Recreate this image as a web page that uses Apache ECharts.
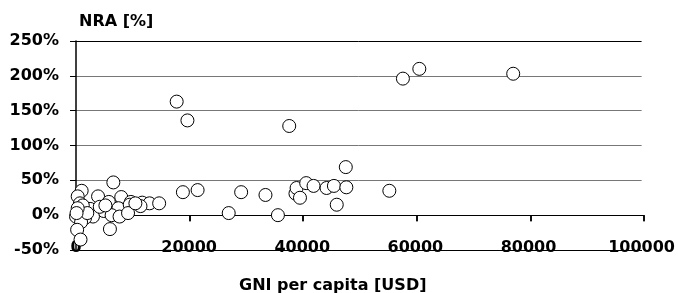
<!DOCTYPE html>
<html>
<head>
<meta charset="utf-8">
<script src="https://cdn.jsdelivr.net/npm/echarts@6/dist/echarts.min.js"></script>
<style>
html, body {margin: 0; padding: 0; background: #fff;}
#main {width: 678px; height: 293px;}
</style>
</head>
<body>
<div id="main"></div>
<script>
// GNI per capita (USD) and NRA (%)
var gni = [
    6600, 1000, 300, 3900, 8000, 700, 5800, 9700, 11700, 13000, 14700,
    7500, 9500, 11400, 2500, 600, 4900, 3000, 1600, 0, 900, 6300, 7700,
    9200, 200, 800, 6000, 4200, 1200, 2000, 300, 10500, 5200, 100,
    17800, 19700, 37700, 57800, 60700, 77300, 18900, 21500, 27000, 29200,
    33500, 35700, 38800, 39000, 39600, 40700, 42000, 44300, 45600, 46100,
    47700, 47800, 55400
];
var nra = [
    47, 35, 27, 27, 26, 17, 19, 19, 18, 17, 17,
    10, 15, 13, 9, 6, 6, -2, -4, -2, -10, 0, -2,
    3, -21, -35, -20, 12, 14, 3, 10, 17, 14, 3,
    163, 136, 128, 196, 210, 203, 33, 36, 3, 33,
    29, 0, 31, 39, 25, 46, 42, 39, 42, 15,
    69, 40, 35
];
var xTicks = [0, 20000, 40000, 60000, 80000, 100000];
var yTicks = [-50, 0, 50, 100, 150, 200, 250];

var points = gni.map(function (g, i) { return [g, nra[i]]; });
var font = "'DejaVu Sans', Arial, sans-serif";
var labelStyle = {color: '#000', fontFamily: font, fontSize: 16, fontWeight: 'bold'};

// plot box in px; a thin second grid just under the 0% line carries the x tick marks
var plotTop = 41, plotBottom = 43, plotH = 293 - plotTop - plotBottom, tickLen = 6;
var zeroY = plotTop + plotH * yTicks[yTicks.length - 1] / (yTicks[yTicks.length - 1] - yTicks[0]);

var myChart = echarts.init(document.getElementById('main'));
var option = {
    animation: false,
    title: [
        {text: 'NRA [%]', left: 74, top: 9, textStyle: labelStyle},
        {text: 'GNI per capita [USD]', left: 234, top: 273, textStyle: labelStyle}
    ],
    grid: [
        {left: 76, right: 34, top: plotTop, bottom: plotBottom},
        {left: 76, right: 34, top: zeroY, height: tickLen}
    ],
    xAxis: [{
        // labels along the bottom edge
        type: 'value',
        gridIndex: 0,
        min: xTicks[0],
        max: xTicks[xTicks.length - 1],
        interval: 20000,
        axisLine: {onZero: false, lineStyle: {color: '#000', width: 1}},
        axisTick: {show: false},
        axisLabel: Object.assign({margin: -10, formatter: function (v) { return String(v); }}, labelStyle),
        splitLine: {show: false}
    }, {
        // tick marks hanging from the 0% line
        type: 'value',
        gridIndex: 1,
        position: 'top',
        min: xTicks[0],
        max: xTicks[xTicks.length - 1],
        interval: 20000,
        axisLine: {show: true, onZero: false, lineStyle: {color: '#000', width: 1}},
        axisTick: {show: true, inside: true, length: tickLen, lineStyle: {color: '#000', width: 1.5}},
        axisLabel: {show: false},
        splitLine: {show: true, lineStyle: {color: '#000', width: 1.5}}
    }],
    yAxis: [{
        type: 'value',
        gridIndex: 0,
        min: yTicks[0],
        max: yTicks[yTicks.length - 1],
        interval: 50,
        axisLine: {show: true, onZero: false, lineStyle: {color: '#000', width: 1.5}},
        axisTick: {show: true, length: 6, lineStyle: {color: '#000'}},
        axisLabel: Object.assign({margin: 17, formatter: '{value}%'}, labelStyle),
        splitLine: {show: true, lineStyle: {
            color: ['#000', '#000', '#777', '#777', '#777', '#777', '#000'], width: 1}}
    }, {
        type: 'value',
        gridIndex: 1,
        min: 0,
        max: 1,
        axisLine: {show: false, onZero: false},
        axisTick: {show: false},
        axisLabel: {show: false},
        splitLine: {show: false}
    }],
    series: [{
        type: 'scatter',
        xAxisIndex: 0,
        yAxisIndex: 0,
        data: points,
        symbol: 'circle',
        symbolSize: 13,
        z: 3,
        itemStyle: {color: '#fff', borderColor: '#000', borderWidth: 1, opacity: 1}
    }, {
        // binds the tick grid's axes; holds no marks
        type: 'scatter',
        xAxisIndex: 1,
        yAxisIndex: 1,
        data: [],
        silent: true
    }]
};
myChart.setOption(option);
</script>
</body>
</html>
